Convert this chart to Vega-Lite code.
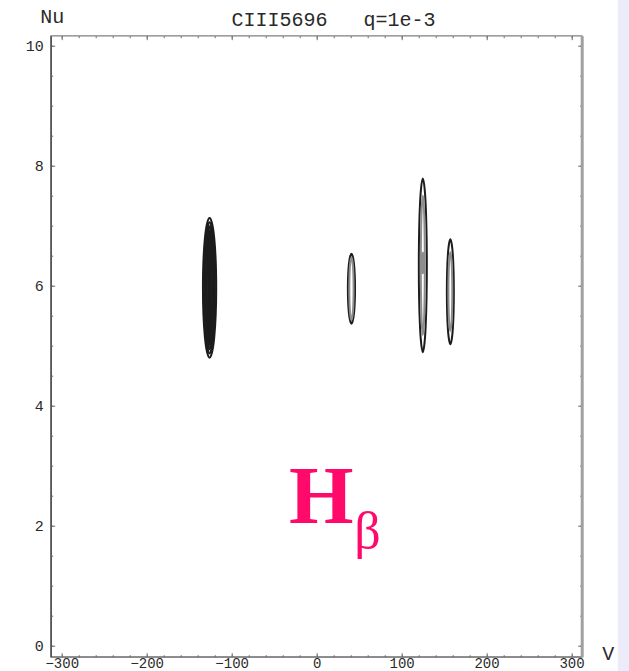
{
  "$schema": "https://vega.github.io/schema/vega-lite/v6.json",
  "width": 531,
  "height": 621,
  "autosize": {"type": "none"},
  "padding": {"left": 50.7, "top": 35.7, "right": 47.3, "bottom": 14.3},
  "background": "white",
  "config": {
    "view": {"stroke": "#808080", "strokeWidth": 1.3},
    "axis": {"grid": false, "domain": false, "labelFont": "Liberation Mono", "labelFontSize": 15, "labelColor": "#2a2a2a", "tickColor": "#6b6b6b", "tickWidth": 1, "titleFont": "Liberation Mono", "titleFontSize": 20, "titleFontWeight": "normal", "titleColor": "#2a2a2a", "labelFlush": false, "labelOverlap": false}
  },
  "datasets": {
    "contours": [
      {"c":"e1a","lev":"main","k":0,"V":-126,"Nu":7.13},
      {"c":"e1a","lev":"main","k":1,"V":-120.49,"Nu":6.789},
      {"c":"e1a","lev":"main","k":2,"V":-118.2,"Nu":5.965},
      {"c":"e1a","lev":"main","k":3,"V":-120.49,"Nu":5.141},
      {"c":"e1a","lev":"main","k":4,"V":-126,"Nu":4.8},
      {"c":"e1a","lev":"main","k":5,"V":-131.51,"Nu":5.141},
      {"c":"e1a","lev":"main","k":6,"V":-133.8,"Nu":5.965},
      {"c":"e1a","lev":"main","k":7,"V":-131.51,"Nu":6.789},
      {"c":"e1b","lev":"main","k":0,"V":-126,"Nu":7.06},
      {"c":"e1b","lev":"main","k":1,"V":-121.59,"Nu":6.739},
      {"c":"e1b","lev":"main","k":2,"V":-119.76,"Nu":5.965},
      {"c":"e1b","lev":"main","k":3,"V":-121.59,"Nu":5.191},
      {"c":"e1b","lev":"main","k":4,"V":-126,"Nu":4.87},
      {"c":"e1b","lev":"main","k":5,"V":-130.41,"Nu":5.191},
      {"c":"e1b","lev":"main","k":6,"V":-132.24,"Nu":5.965},
      {"c":"e1b","lev":"main","k":7,"V":-130.41,"Nu":6.739},
      {"c":"e1c","lev":"main","k":0,"V":-126,"Nu":6.99},
      {"c":"e1c","lev":"main","k":1,"V":-122.69,"Nu":6.69},
      {"c":"e1c","lev":"main","k":2,"V":-121.32,"Nu":5.965},
      {"c":"e1c","lev":"main","k":3,"V":-122.69,"Nu":5.24},
      {"c":"e1c","lev":"main","k":4,"V":-126,"Nu":4.94},
      {"c":"e1c","lev":"main","k":5,"V":-129.31,"Nu":5.24},
      {"c":"e1c","lev":"main","k":6,"V":-130.68,"Nu":5.965},
      {"c":"e1c","lev":"main","k":7,"V":-129.31,"Nu":6.69},
      {"c":"e1d","lev":"main","k":0,"V":-126,"Nu":6.92},
      {"c":"e1d","lev":"main","k":1,"V":-123.79,"Nu":6.64},
      {"c":"e1d","lev":"main","k":2,"V":-122.88,"Nu":5.965},
      {"c":"e1d","lev":"main","k":3,"V":-123.79,"Nu":5.29},
      {"c":"e1d","lev":"main","k":4,"V":-126,"Nu":5.01},
      {"c":"e1d","lev":"main","k":5,"V":-128.21,"Nu":5.29},
      {"c":"e1d","lev":"main","k":6,"V":-129.12,"Nu":5.965},
      {"c":"e1d","lev":"main","k":7,"V":-128.21,"Nu":6.64},
      {"c":"e1e","lev":"main","k":0,"V":-126,"Nu":6.85},
      {"c":"e1e","lev":"main","k":1,"V":-124.9,"Nu":6.591},
      {"c":"e1e","lev":"main","k":2,"V":-124.44,"Nu":5.965},
      {"c":"e1e","lev":"main","k":3,"V":-124.9,"Nu":5.339},
      {"c":"e1e","lev":"main","k":4,"V":-126,"Nu":5.08},
      {"c":"e1e","lev":"main","k":5,"V":-127.1,"Nu":5.339},
      {"c":"e1e","lev":"main","k":6,"V":-127.56,"Nu":5.965},
      {"c":"e1e","lev":"main","k":7,"V":-127.1,"Nu":6.591},
      {"c":"e1f","lev":"main","k":0,"V":-126,"Nu":6.795},
      {"c":"e1f","lev":"main","k":1,"V":-125.65,"Nu":6.552},
      {"c":"e1f","lev":"main","k":2,"V":-125.5,"Nu":5.965},
      {"c":"e1f","lev":"main","k":3,"V":-125.65,"Nu":5.378},
      {"c":"e1f","lev":"main","k":4,"V":-126,"Nu":5.135},
      {"c":"e1f","lev":"main","k":5,"V":-126.35,"Nu":5.378},
      {"c":"e1f","lev":"main","k":6,"V":-126.5,"Nu":5.965},
      {"c":"e1f","lev":"main","k":7,"V":-126.35,"Nu":6.552},
      {"c":"e2a","lev":"main","k":0,"V":41,"Nu":6.534},
      {"c":"e2a","lev":"main","k":1,"V":43.97,"Nu":6.363},
      {"c":"e2a","lev":"main","k":2,"V":45.2,"Nu":5.95},
      {"c":"e2a","lev":"main","k":3,"V":43.97,"Nu":5.537},
      {"c":"e2a","lev":"main","k":4,"V":41,"Nu":5.366},
      {"c":"e2a","lev":"main","k":5,"V":38.03,"Nu":5.537},
      {"c":"e2a","lev":"main","k":6,"V":36.8,"Nu":5.95},
      {"c":"e2a","lev":"main","k":7,"V":38.03,"Nu":6.363},
      {"c":"e2b","lev":"inner","k":0,"V":41,"Nu":6.476},
      {"c":"e2b","lev":"inner","k":1,"V":42.78,"Nu":6.322},
      {"c":"e2b","lev":"inner","k":2,"V":43.52,"Nu":5.95},
      {"c":"e2b","lev":"inner","k":3,"V":42.78,"Nu":5.578},
      {"c":"e2b","lev":"inner","k":4,"V":41,"Nu":5.424},
      {"c":"e2b","lev":"inner","k":5,"V":39.22,"Nu":5.578},
      {"c":"e2b","lev":"inner","k":6,"V":38.48,"Nu":5.95},
      {"c":"e2b","lev":"inner","k":7,"V":39.22,"Nu":6.322},
      {"c":"e3a","lev":"main","k":0,"V":125,"Nu":7.79},
      {"c":"e3a","lev":"main","k":1,"V":128.32,"Nu":7.365},
      {"c":"e3a","lev":"main","k":2,"V":129.7,"Nu":6.34},
      {"c":"e3a","lev":"main","k":3,"V":128.32,"Nu":5.315},
      {"c":"e3a","lev":"main","k":4,"V":125,"Nu":4.89},
      {"c":"e3a","lev":"main","k":5,"V":121.68,"Nu":5.315},
      {"c":"e3a","lev":"main","k":6,"V":120.3,"Nu":6.34},
      {"c":"e3a","lev":"main","k":7,"V":121.68,"Nu":7.365},
      {"c":"e3b","lev":"inner","k":0,"V":125,"Nu":7.5},
      {"c":"e3b","lev":"inner","k":1,"V":126.66,"Nu":7.16},
      {"c":"e3b","lev":"inner","k":2,"V":127.35,"Nu":6.34},
      {"c":"e3b","lev":"inner","k":3,"V":126.66,"Nu":5.52},
      {"c":"e3b","lev":"inner","k":4,"V":125,"Nu":5.18},
      {"c":"e3b","lev":"inner","k":5,"V":123.34,"Nu":5.52},
      {"c":"e3b","lev":"inner","k":6,"V":122.65,"Nu":6.34},
      {"c":"e3b","lev":"inner","k":7,"V":123.34,"Nu":7.16},
      {"c":"e3c","lev":"inner","k":0,"V":125,"Nu":6.55},
      {"c":"e3c","lev":"inner","k":1,"V":125.85,"Nu":6.5},
      {"c":"e3c","lev":"inner","k":2,"V":126.2,"Nu":6.38},
      {"c":"e3c","lev":"inner","k":3,"V":125.85,"Nu":6.26},
      {"c":"e3c","lev":"inner","k":4,"V":125,"Nu":6.21},
      {"c":"e3c","lev":"inner","k":5,"V":124.15,"Nu":6.26},
      {"c":"e3c","lev":"inner","k":6,"V":123.8,"Nu":6.38},
      {"c":"e3c","lev":"inner","k":7,"V":124.15,"Nu":6.5},
      {"c":"e4a","lev":"main","k":0,"V":157.4,"Nu":6.776},
      {"c":"e4a","lev":"main","k":1,"V":160.3,"Nu":6.519},
      {"c":"e4a","lev":"main","k":2,"V":161.5,"Nu":5.9},
      {"c":"e4a","lev":"main","k":3,"V":160.3,"Nu":5.281},
      {"c":"e4a","lev":"main","k":4,"V":157.4,"Nu":5.024},
      {"c":"e4a","lev":"main","k":5,"V":154.5,"Nu":5.281},
      {"c":"e4a","lev":"main","k":6,"V":153.3,"Nu":5.9},
      {"c":"e4a","lev":"main","k":7,"V":154.5,"Nu":6.519},
      {"c":"e4b","lev":"inner","k":0,"V":157.4,"Nu":6.557},
      {"c":"e4b","lev":"inner","k":1,"V":159.0,"Nu":6.364},
      {"c":"e4b","lev":"inner","k":2,"V":159.66,"Nu":5.9},
      {"c":"e4b","lev":"inner","k":3,"V":159.0,"Nu":5.436},
      {"c":"e4b","lev":"inner","k":4,"V":157.4,"Nu":5.243},
      {"c":"e4b","lev":"inner","k":5,"V":155.8,"Nu":5.436},
      {"c":"e4b","lev":"inner","k":6,"V":155.14,"Nu":5.9},
      {"c":"e4b","lev":"inner","k":7,"V":155.8,"Nu":6.364}
    ],
    "big": [{"t": "H", "V": 5.6, "Nu": 2.04}],
    "sub": [{"t": "β", "V": 59.8, "Nu": 1.63}]
  },
  "resolve": {"axis": {"x": "independent", "y": "independent"}},
  "layer": [
    {
      "data": {"values": [{}]},
      "mark": {"type": "rect", "color": "#ebebf9", "clip": false},
      "encoding": {
        "x": {"datum": 354.5, "type": "quantitative", "scale": {"domain": [-313, 312], "nice": false, "zero": false},
              "axis": {"orient": "top", "values": [-300,-280,-260,-240,-220,-200,-180,-160,-140,-120,-100,-80,-60,-40,-20,0,20,40,60,80,100,120,140,160,180,200,220,240,260,280,300], "tickSize": -2, "labels": false,
                       "title": "CIII5696\u00a0\u00a0\u00a0q=1e-3", "titleX": 282.3, "titleY": -10.5, "titleAlign": "center", "titleBaseline": "alphabetic", "titleAngle": 0}},
        "x2": {"datum": 380},
        "y": {"datum": 10.8, "type": "quantitative", "scale": {"domain": [-0.187, 10.17], "nice": false, "zero": false},
              "axis": {"orient": "right", "values": [0,0.5,1,1.5,2,2.5,3,3.5,4,4.5,5,5.5,6,6.5,7,7.5,8,8.5,9,9.5,10], "tickSize": -2, "labels": false, "title": null}},
        "y2": {"datum": -0.5}
      }
    },
    {
      "data": {"name": "contours"},
      "mark": {"type": "line", "interpolate": "cardinal-closed", "strokeWidth": 2},
      "encoding": {
        "x": {"field": "V", "type": "quantitative", "scale": {"domain": [-313, 312], "nice": false, "zero": false},
              "axis": {"orient": "bottom", "values": [-300,-200,-100,0,100,200,300], "tickSize": -4, "labelFontSize": 14, "labelBaseline": "bottom", "labelPadding": 17.5, "domain": true, "domainColor": "#8a8a8a", "domainWidth": 1.8, "title": "V", "titleX": 557, "titleY": 2.5, "titleAlign": "center", "titleBaseline": "alphabetic", "titleAngle": 0}},
        "y": {"field": "Nu", "type": "quantitative", "scale": {"domain": [-0.187, 10.17], "nice": false, "zero": false},
              "axis": {"orient": "left", "values": [0,2,4,6,8,10], "tickSize": -4, "labelPadding": 11.5, "domain": true, "domainColor": "#555555", "domainWidth": 1.6, "title": "Nu", "titleX": 1, "titleY": -13, "titleAlign": "center", "titleBaseline": "alphabetic", "titleAngle": 0}},
        "detail": {"field": "c"},
        "order": {"field": "k"},
        "color": {"field": "lev", "type": "nominal", "scale": {"domain": ["main", "inner"], "range": ["#1c1c1c", "#8d8d8d"]}, "legend": null}
      }
    },
    {
      "data": {"name": "big"},
      "mark": {"type": "text", "font": "Liberation Serif", "fontWeight": "bold", "fontSize": 83, "color": "#ff0a6a", "align": "center", "baseline": "alphabetic"},
      "encoding": {
        "x": {"field": "V", "type": "quantitative", "scale": {"domain": [-313, 312], "nice": false, "zero": false},
              "axis": {"orient": "bottom", "values": [-300,-280,-260,-240,-220,-200,-180,-160,-140,-120,-100,-80,-60,-40,-20,0,20,40,60,80,100,120,140,160,180,200,220,240,260,280,300], "tickSize": -2, "labels": false, "title": null}},
        "y": {"field": "Nu", "type": "quantitative", "scale": {"domain": [-0.187, 10.17], "nice": false, "zero": false},
              "axis": {"orient": "left", "values": [0,0.5,1,1.5,2,2.5,3,3.5,4,4.5,5,5.5,6,6.5,7,7.5,8,8.5,9,9.5,10], "tickSize": -2, "labels": false, "title": null}},
        "text": {"field": "t"}
      }
    },
    {
      "data": {"name": "sub"},
      "mark": {"type": "text", "font": "Liberation Serif", "fontSize": 52, "color": "#ff0a6a", "align": "center", "baseline": "alphabetic"},
      "encoding": {
        "x": {"field": "V", "type": "quantitative", "scale": {"domain": [-313, 312], "nice": false, "zero": false},
              "axis": {"orient": "top", "values": [-300,-200,-100,0,100,200,300], "tickSize": -4, "labels": false, "title": null}},
        "y": {"field": "Nu", "type": "quantitative", "scale": {"domain": [-0.187, 10.17], "nice": false, "zero": false},
              "axis": {"orient": "right", "values": [0,2,4,6,8,10], "tickSize": -4, "labels": false, "title": null, "domain": true, "domainColor": "#a0a0a0", "domainWidth": 3}},
        "text": {"field": "t"}
      }
    }
  ]
}
